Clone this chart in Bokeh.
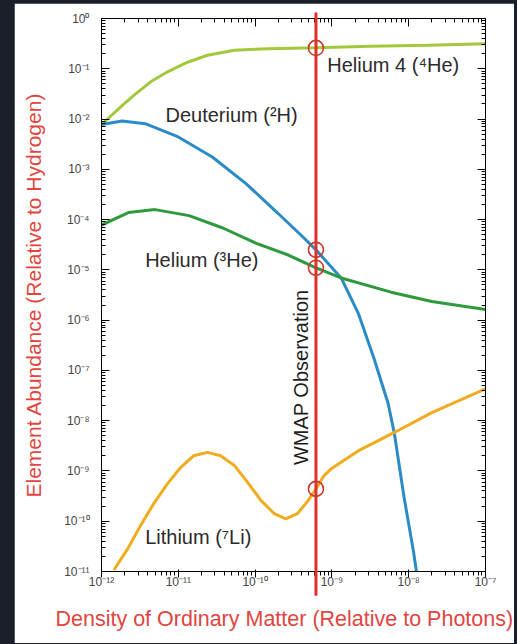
import numpy as np
from bokeh.plotting import figure
from bokeh.models import Range1d, LogAxis, FixedTicker, Spacer, GlobalInlineStyleSheet, Title
from bokeh.layouts import row, column
from bokeh.core.properties import value
from bokeh.embed import file_html
from bokeh.resources import INLINE

# ---------------- data ----------------
he4_density = [1.0e-12, 1.78e-12, 2.63e-12, 4.37e-12, 7.24e-12, 1.32e-11, 2.4e-11, 5.37e-11, 1.45e-10,
               6.2e-10, 3.2e-9, 1.8e-8, 1.0e-7]
he4_abund   = [7.8e-3, 1.74e-2, 2.95e-2, 5.5e-2, 8.7e-2, 0.135, 0.186, 0.234, 0.251,
               0.263, 0.279, 0.295, 0.316]

d_density = [1.0e-12, 1.86e-12, 3.7e-12, 1.0e-11, 2.8e-11, 7.6e-11, 2.0e-10, 4.2e-10, 6.2e-10, 1.32e-9,
             2.2e-9, 3.5e-9, 5.4e-9, 6.5e-9, 8.7e-9, 1.15e-8, 1.26e-8]
d_abund   = [7.8e-3, 9.1e-3, 8.1e-3, 4.4e-3, 1.74e-3, 5.2e-4, 1.32e-4, 4.5e-5, 2.5e-5, 6.9e-6,
             1.38e-6, 1.8e-7, 2.2e-8, 5.6e-9, 3.0e-10, 2.6e-11, 1.0e-11]

he3_density = [1.0e-12, 2.24e-12, 5.0e-12, 1.38e-11, 3.8e-11, 1.02e-10, 2.75e-10, 6.2e-10, 1.32e-9, 5.9e-9, 2.0e-8, 1.0e-7]
he3_abund   = [7.8e-5, 1.38e-4, 1.58e-4, 1.2e-4, 6.8e-5, 3.4e-5, 1.95e-5, 1.1e-5, 6.9e-6, 3.6e-6, 2.35e-6, 1.62e-6]

li_density = [1.45e-12, 2.19e-12, 3.24e-12, 4.79e-12, 7.24e-12, 1.07e-11, 1.58e-11, 2.4e-11, 3.55e-11,
              5.37e-11, 7.94e-11, 1.2e-10, 1.78e-10, 2.51e-10, 3.55e-10, 4.9e-10, 6.2e-10, 7.9e-10,
              9.8e-10, 2.2e-9, 6.6e-9, 2.0e-8, 1.0e-7]
li_abund   = [1.07e-11, 2.82e-11, 8.3e-11, 2.24e-10, 5.6e-10, 1.17e-9, 2.0e-9, 2.34e-9, 2.0e-9,
              1.29e-9, 6.0e-10, 2.57e-10, 1.41e-10, 1.12e-10, 1.41e-10, 2.57e-10, 4.4e-10, 8.1e-10,
              1.1e-9, 2.5e-9, 5.9e-9, 1.45e-8, 4.3e-8]

wmap_density = 6.2e-10
wmap_abundances = [0.26, 2.5e-5, 1.1e-5, 4.4e-10]

x_ticks = [1e-12, 1e-11, 1e-10, 1e-9, 1e-8, 1e-7]
x_tick_labels = ["10\u207b\u00b9\u00b2", "10\u207b\u00b9\u00b9", "10\u207b\u00b9\u2070", "10\u207b\u2079", "10\u207b\u2078", "10\u207b\u2077"]
y_ticks = [1.0, 1e-1, 1e-2, 1e-3, 1e-4, 1e-5, 1e-6, 1e-7, 1e-8, 1e-9, 1e-10, 1e-11]
y_tick_labels = ["10\u2070", "10\u207b\u00b9", "10\u207b\u00b2", "10\u207b\u00b3", "10\u207b\u2074", "10\u207b\u2075",
                 "10\u207b\u2076", "10\u207b\u2077", "10\u207b\u2078", "10\u207b\u2079", "10\u207b\u00b9\u2070", "10\u207b\u00b9\u00b9"]

curve_labels = ["Helium 4 (\u2074He)", "Deuterium (\u00b2H)", "Helium (\u00b3He)", "Lithium (\u2077Li)"]
x_title = "Density of Ordinary Matter (Relative to Photons)"
y_title = "Element Abundance (Relative to Hydrogen)"

# ---------------- styling ----------------
FONT = "Liberation Sans"
DARK = "#1b1f2a"
RED = "#e0302c"
TITLE_RED = "#e2453f"
C_HE4 = "#a3c83b"
C_D = "#2b8bc6"
C_HE3 = "#2e9a3e"
C_LI = "#f0ab1e"

def minor_list(lo, hi):
    out = []
    for k in range(lo, hi):
        for m in range(2, 10):
            out.append(m * 10.0 ** k)
    return out

x_ticker = FixedTicker(ticks=x_ticks, minor_ticks=minor_list(-12, -7))
y_ticker = FixedTicker(ticks=y_ticks, minor_ticks=minor_list(-11, 0))

p = figure(width=500, height=640, x_axis_type="log", y_axis_type="log",
           x_range=Range1d(1e-12, 1e-7), y_range=Range1d(1e-11, 1.0),
           output_backend="svg", toolbar_location=None,
           min_border_left=87, min_border_right=29, min_border_top=15, min_border_bottom=71)
p.background_fill_color = "white"
p.border_fill_color = "white"
p.outline_line_color = "black"
p.xgrid.visible = False
p.ygrid.visible = False

p.xaxis.ticker = x_ticker
p.yaxis.ticker = y_ticker
p.xaxis.major_label_overrides = {t: l for t, l in zip(x_ticks, x_tick_labels)}
p.yaxis.major_label_overrides = {t: l for t, l in zip(y_ticks, y_tick_labels)}

p.yaxis.axis_label = y_title

for ax in (p.xaxis[0], p.yaxis[0]):
    ax.axis_label_text_font = FONT
    ax.axis_label_text_font_style = "normal"
    ax.axis_label_text_color = TITLE_RED
    ax.major_label_text_font = FONT
    ax.major_label_text_font_size = "12px"
    ax.major_label_text_color = "#444444"

p.yaxis.axis_label_text_font_size = "21px"
p.xaxis.major_label_standoff = -3
p.yaxis.major_label_standoff = 12
p.yaxis.axis_label_standoff = 16

top_ax = LogAxis(ticker=x_ticker)
right_ax = LogAxis(ticker=y_ticker)
for ax in (top_ax, right_ax):
    ax.major_label_text_font_size = "1px"
    ax.major_label_text_color = None
    ax.major_label_standoff = 0
p.add_layout(top_ax, "above")
p.add_layout(right_ax, "right")

for ax in (p.xaxis[0], p.yaxis[0], top_ax, right_ax):
    ax.axis_line_color = "black"
    ax.major_tick_line_color = "black"
    ax.minor_tick_line_color = "black"
    ax.major_tick_in = 8
    ax.major_tick_out = 0
    ax.minor_tick_in = 4
    ax.minor_tick_out = 0

# x axis title as a below-title so it can be nudged left like the reference
p.add_layout(Title(text=x_title, align="left", offset=-46, standoff=26,
                   text_font=FONT, text_font_size="21.5px", text_font_style="normal",
                   text_color=TITLE_RED), "below")

# curves
p.line(he4_density, he4_abund, line_color=C_HE4, line_width=3)
p.line(d_density, d_abund, line_color=C_D, line_width=3)
p.line(he3_density, he3_abund, line_color=C_HE3, line_width=3)
p.line(li_density, li_abund, line_color=C_LI, line_width=3)

# WMAP observation line (extends a little beyond the frame)
p.segment(x0=[wmap_density], y0=[10 ** 0.12], x1=[wmap_density], y1=[10 ** -11.48],
          line_color=RED, line_width=3, level="overlay")
p.scatter([wmap_density] * len(wmap_abundances), wmap_abundances, marker="circle", size=15,
          fill_color=None, line_color="#c8382c", line_width=1.6, level="overlay")

# labels
p.text(x=[8.7e-10, 6.8e-12, 3.7e-12, 3.7e-12], y=[0.117, 1.2e-2, 1.6e-5, 4.9e-11], text=curve_labels,
       text_font=value(FONT), text_font_size="20px", text_color="#2b2b2b",
       text_align="left", text_baseline="middle")
p.text(x=[4.0e-10], y=[7.3e-8], text=["WMAP Observation"], angle=np.pi / 2,
       text_font=value(FONT), text_font_size="20px", text_color="#1e1e1e",
       text_align="center", text_baseline="middle")

p.stylesheets = [GlobalInlineStyleSheet(css="body { background-color: %s; }" % DARK)]

layout = column(Spacer(width=514, height=3), row(Spacer(width=14, height=640), p))

open("out.html", "w").write(file_html(layout, INLINE))
